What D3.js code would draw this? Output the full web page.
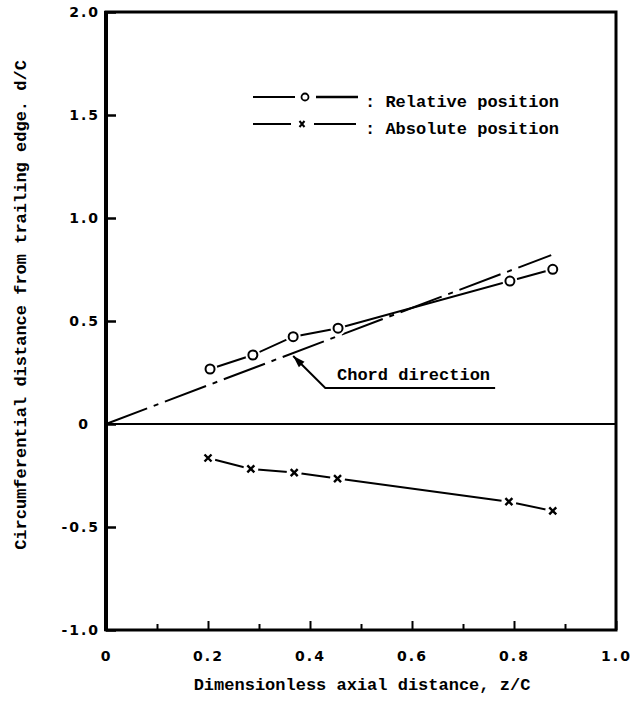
<!DOCTYPE html>
<style>
body {
  margin: 0;
  background: #fff;
}
.tick text {
  font-family: 'DejaVu Sans', sans-serif;
  font-weight: bold;
  font-size: 14px;
  letter-spacing: 2px;
  fill: #000;
}
.lbl {
  font-family: 'Liberation Mono', monospace;
  font-weight: bold;
  font-size: 17px;
  fill: #000;
}
</style>
<svg width="633" height="708"></svg>
<script src="https://d3js.org/d3.v7.min.js"></script>
<script>
// relative position (circles)
var relZ = [0.204, 0.288, 0.367, 0.455, 0.792, 0.876];
var relD = [0.267, 0.335, 0.424, 0.465, 0.694, 0.751];
// absolute position (crosses)
var absZ = [0.200, 0.284, 0.369, 0.454, 0.790, 0.876];
var absD = [-0.165, -0.218, -0.236, -0.265, -0.377, -0.422];
// chord direction line
var chordZ = [0, 0.873];
var chordD = [0, 0.82];

var xTicks = [0, 0.2, 0.4, 0.6, 0.8, 1.0];
var xMinor = [0.1, 0.3, 0.5, 0.7, 0.9];
var yTicks = [-1, -0.5, 0, 0.5, 1, 1.5, 2];
var yLabels = ["-1.0", "-0.5", "0", "0.5", "1.0", "1.5", "2.0"];
var xLabels = ["0", "0.2", "0.4", "0.6", "0.8", "1.0"];

var svg = d3.select("svg");

var x = d3.scaleLinear().domain([0, 1]).range([106, 616]);
var y = d3.scaleLinear().domain([-1, 2]).range([630, 12]);

// axes, ticks pointing inward
svg.append("g")
    .attr("transform", "translate(" + x(0) + ",0)")
    .call(d3.axisLeft(y).tickValues(yTicks)
      .tickFormat(function(d, i) { return yLabels[i]; })
      .tickSizeInner(-10).tickSizeOuter(0).tickPadding(6))
    .call(function(g) { g.select(".domain").remove(); })
    .call(function(g) { g.selectAll(".tick line").attr("stroke-width", 2.5); })
    .call(function(g) {
      g.selectAll(".tick text").filter(function(d) { return d === 0; })
        .attr("text-anchor", "middle").attr("x", -22);
    });

svg.append("g")
    .attr("transform", "translate(0," + y(-1) + ")")
    .call(d3.axisBottom(x).tickValues(xTicks)
      .tickFormat(function(d, i) { return xLabels[i]; })
      .tickSizeInner(-9).tickSizeOuter(0).tickPadding(21))
    .call(function(g) { g.select(".domain").remove(); })
    .call(function(g) { g.selectAll(".tick line").attr("stroke-width", 2); });

svg.append("g")
    .attr("transform", "translate(0," + y(-1) + ")")
    .call(d3.axisBottom(x).tickValues(xMinor).tickFormat("")
      .tickSizeInner(-6).tickSizeOuter(0))
    .call(function(g) { g.select(".domain").remove(); })
    .call(function(g) { g.selectAll(".tick line").attr("stroke-width", 2); });

// frame
svg.append("rect")
    .attr("x", x(0)).attr("y", y(2))
    .attr("width", x(1) - x(0)).attr("height", y(-1) - y(2))
    .attr("fill", "none").attr("stroke", "#000").attr("stroke-width", 3);
svg.append("line")
    .attr("x1", x(0)).attr("x2", x(0)).attr("y1", y(2) - 1).attr("y2", y(-1) + 1)
    .attr("stroke", "#000").attr("stroke-width", 4);

// zero line
svg.append("line")
    .attr("x1", x(0)).attr("x2", x(1)).attr("y1", y(0)).attr("y2", y(0))
    .attr("stroke", "#000").attr("stroke-width", 2.2);

var line = d3.line()
    .x(function(d) { return x(d[0]); })
    .y(function(d) { return y(d[1]); });

// chord direction, dash-dot
svg.append("path")
    .attr("d", line(d3.zip(chordZ, chordD)))
    .attr("fill", "none").attr("stroke", "#000").attr("stroke-width", 2)
    .attr("stroke-dasharray", "44,7,5,7");

// relative position
var rel = d3.zip(relZ, relD);
svg.append("path")
    .attr("d", line(rel))
    .attr("fill", "none").attr("stroke", "#000").attr("stroke-width", 2);
svg.selectAll(".relhalo").data(rel).enter().append("circle")
    .attr("cx", function(d) { return x(d[0]); })
    .attr("cy", function(d) { return y(d[1]); })
    .attr("r", 7.5).attr("fill", "#fff");
svg.selectAll(".relpt").data(rel).enter().append("circle")
    .attr("cx", function(d) { return x(d[0]); })
    .attr("cy", function(d) { return y(d[1]); })
    .attr("r", 4.5).attr("fill", "#fff").attr("stroke", "#000").attr("stroke-width", 2);

// absolute position
var abs = d3.zip(absZ, absD);
svg.append("path")
    .attr("d", line(abs))
    .attr("fill", "none").attr("stroke", "#000").attr("stroke-width", 2);
svg.selectAll(".abshalo").data(abs).enter().append("circle")
    .attr("cx", function(d) { return x(d[0]); })
    .attr("cy", function(d) { return y(d[1]); })
    .attr("r", 7.5).attr("fill", "#fff");
svg.selectAll(".abspt").data(abs).enter().append("path")
    .attr("transform", function(d) { return "translate(" + x(d[0]) + "," + y(d[1]) + ")"; })
    .attr("d", "M-3.5,-3.5L3.5,3.5M3.5,-3.5L-3.5,3.5")
    .attr("stroke", "#000").attr("stroke-width", 2.4);

// chord direction annotation
var tip = [0.367, 0.33], elbow = [0.43, 0.175], leadEnd = [0.763, 0.175];
svg.append("path")
    .attr("d", line([tip, elbow, leadEnd]))
    .attr("fill", "none").attr("stroke", "#000").attr("stroke-width", 2);
var ang = Math.atan2(y(elbow[1]) - y(tip[1]), x(elbow[0]) - x(tip[0])) * 180 / Math.PI;
svg.append("path")
    .attr("transform", "translate(" + x(tip[0]) + "," + y(tip[1]) + ") rotate(" + ang + ")")
    .attr("d", "M0,0L12,-4L12,4Z")
    .attr("fill", "#000");
svg.append("text")
    .attr("class", "lbl")
    .attr("x", x(0.453)).attr("y", y(0.213))
    .text("Chord direction");

// legend
var legend = svg.append("g");
legend.append("line").attr("x1", 253).attr("x2", 295).attr("y1", 97).attr("y2", 97)
    .attr("stroke", "#000").attr("stroke-width", 2);
legend.append("circle").attr("cx", 305).attr("cy", 97).attr("r", 3.5)
    .attr("fill", "none").attr("stroke", "#000").attr("stroke-width", 1.8);
legend.append("line").attr("x1", 316).attr("x2", 358).attr("y1", 97).attr("y2", 97)
    .attr("stroke", "#000").attr("stroke-width", 2.4);
legend.append("text").attr("class", "lbl").attr("x", 365).attr("y", 107)
    .text(": Relative position");

legend.append("line").attr("x1", 253).attr("x2", 291).attr("y1", 124).attr("y2", 124)
    .attr("stroke", "#000").attr("stroke-width", 2);
legend.append("path").attr("transform", "translate(302,124)")
    .attr("d", "M-2.5,-3L2.5,3M2.5,-3L-2.5,3")
    .attr("stroke", "#000").attr("stroke-width", 2);
legend.append("line").attr("x1", 314).attr("x2", 356).attr("y1", 124).attr("y2", 124)
    .attr("stroke", "#000").attr("stroke-width", 2);
legend.append("text").attr("class", "lbl").attr("x", 365).attr("y", 134)
    .text(": Absolute position");

// axis titles
svg.append("text")
    .attr("class", "lbl")
    .attr("x", 362).attr("y", 690)
    .attr("text-anchor", "middle")
    .text("Dimensionless axial distance, z/C");

svg.append("text")
    .attr("class", "lbl")
    .attr("transform", "translate(26,305) rotate(-90)")
    .attr("text-anchor", "middle")
    .text("Circumferential distance from trailing edge. d/C");
</script>
